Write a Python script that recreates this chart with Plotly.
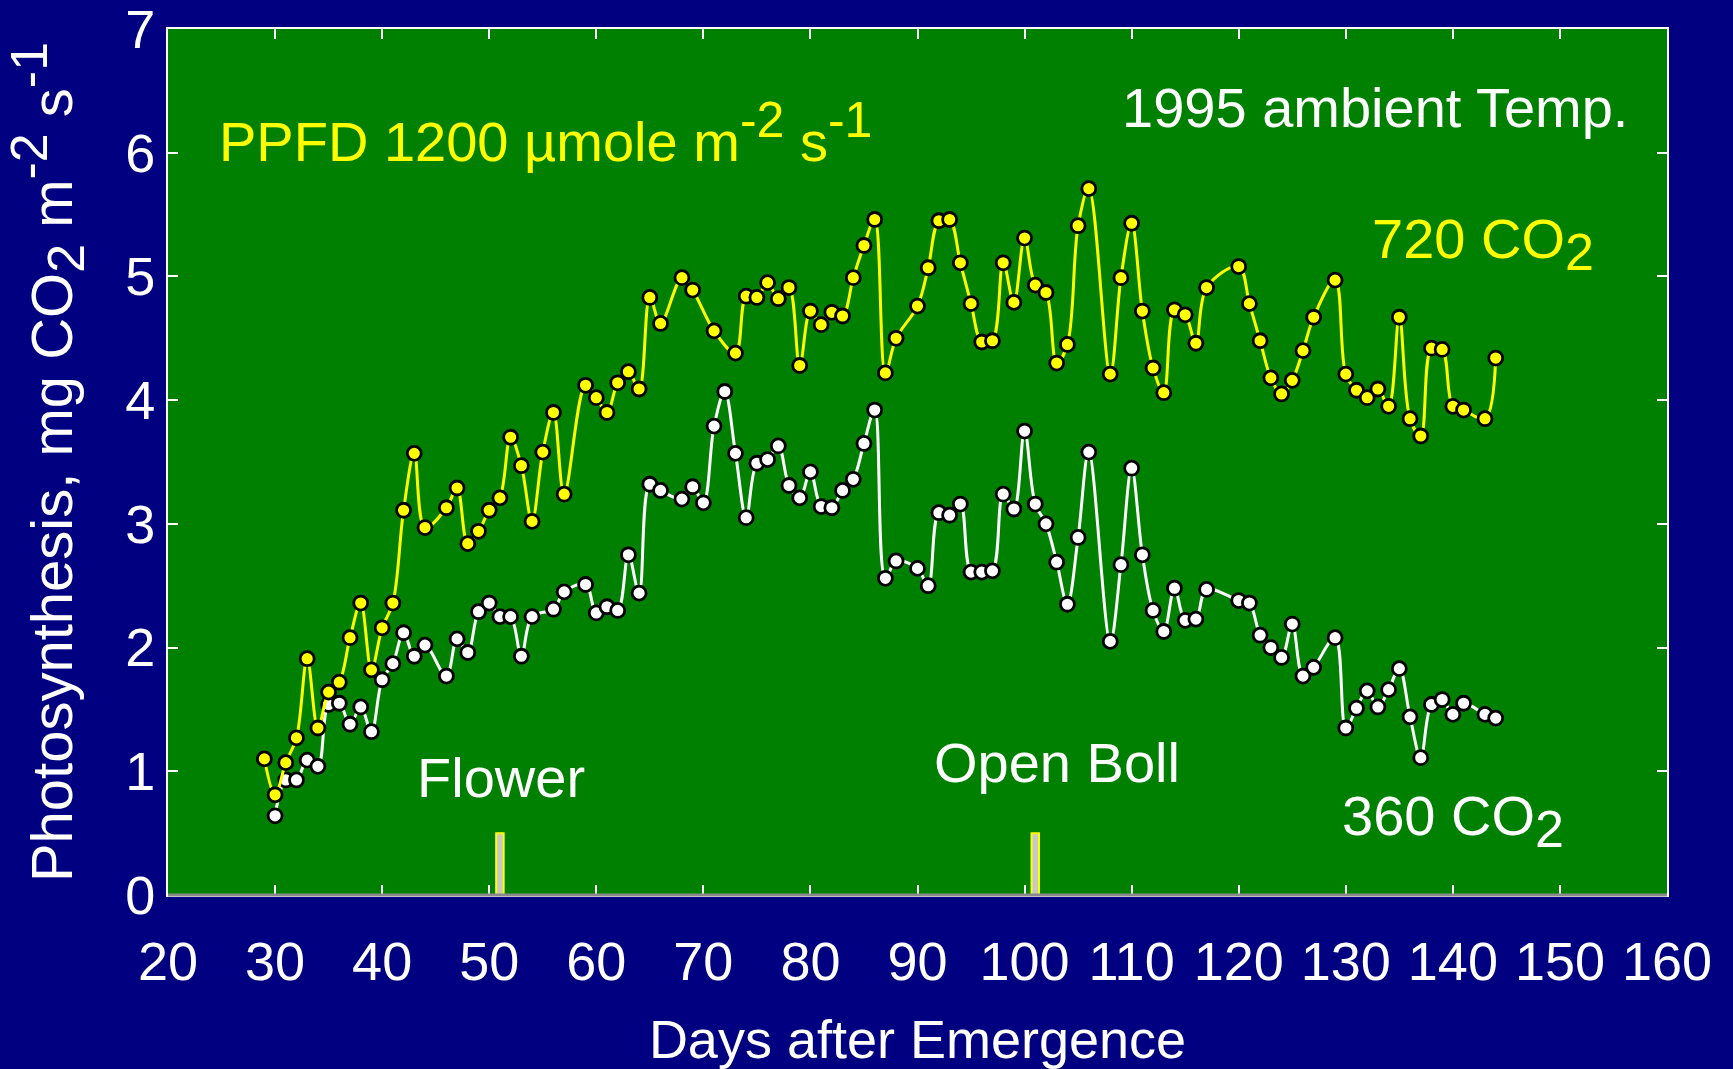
import plotly.graph_objects as go

# days after emergence and photosynthesis (mg CO2 m-2 s-1)
days_720 = [29, 30, 31, 32, 33, 34, 35, 36, 37, 38, 39, 40, 41, 42, 43, 44, 46, 47, 48, 49,
            50, 51, 52, 53, 54, 55, 56, 57, 59, 60, 61, 62, 63, 64, 65, 66, 68, 69, 71, 73,
            74, 75, 76, 77, 78, 79, 80, 81, 82, 83, 84, 85, 86, 87, 88, 90, 91, 92, 93, 94,
            95, 96, 97, 98, 99, 100, 101, 102, 103, 104, 105, 106, 108, 109, 110, 111, 112, 113, 114, 115,
            116, 117, 120, 121, 122, 123, 124, 125, 126, 127, 129, 130, 131, 132, 133, 134, 135, 136, 137, 138,
            139, 140, 141, 143, 144]
ps_720 = [1.10, 0.81, 1.07, 1.27, 1.91, 1.35, 1.64, 1.72, 2.08, 2.36, 1.82, 2.16, 2.36, 3.11, 3.57, 2.97, 3.13, 3.29, 2.84, 2.94,
          3.11, 3.21, 3.70, 3.47, 3.02, 3.58, 3.90, 3.24, 4.12, 4.02, 3.90, 4.14, 4.23, 4.09, 4.83, 4.62, 4.99, 4.89, 4.56, 4.38,
          4.84, 4.83, 4.95, 4.82, 4.91, 4.28, 4.72, 4.61, 4.71, 4.68, 4.99, 5.25, 5.46, 4.22, 4.50, 4.76, 5.07, 5.45, 5.46, 5.11,
          4.78, 4.47, 4.48, 5.11, 4.79, 5.31, 4.93, 4.87, 4.30, 4.45, 5.41, 5.71, 4.21, 4.99, 5.43, 4.72, 4.26, 4.06, 4.73, 4.69,
          4.46, 4.91, 5.08, 4.78, 4.48, 4.18, 4.05, 4.16, 4.40, 4.67, 4.97, 4.21, 4.08, 4.02, 4.09, 3.95, 4.67, 3.85, 3.71, 4.42,
          4.41, 3.95, 3.92, 3.85, 4.34]

days_360 = [30, 31, 32, 33, 34, 35, 36, 37, 38, 39, 40, 41, 42, 43, 44, 46, 47, 48, 49, 50,
            51, 52, 53, 54, 56, 57, 59, 60, 61, 62, 63, 64, 65, 66, 68, 69, 70, 71, 72, 73,
            74, 75, 76, 77, 78, 79, 80, 81, 82, 83, 84, 85, 86, 87, 88, 90, 91, 92, 93, 94,
            95, 96, 97, 98, 99, 100, 101, 102, 103, 104, 105, 106, 108, 109, 110, 111, 112, 113, 114, 115,
            116, 117, 120, 121, 122, 123, 124, 125, 126, 127, 129, 130, 131, 132, 133, 134, 135, 136, 137, 138,
            139, 140, 141, 143, 144]
ps_360 = [0.64, 0.93, 0.93, 1.09, 1.04, 1.54, 1.55, 1.38, 1.52, 1.32, 1.74, 1.87, 2.12, 1.93, 2.02, 1.77, 2.07, 1.96, 2.29, 2.36,
          2.25, 2.25, 1.93, 2.25, 2.31, 2.45, 2.51, 2.28, 2.33, 2.30, 2.75, 2.44, 3.32, 3.27, 3.20, 3.30, 3.17, 3.79, 4.07, 3.57,
          3.05, 3.49, 3.52, 3.63, 3.31, 3.21, 3.42, 3.14, 3.13, 3.27, 3.36, 3.65, 3.92, 2.56, 2.70, 2.64, 2.50, 3.09, 3.07, 3.16,
          2.61, 2.61, 2.62, 3.24, 3.12, 3.75, 3.16, 3.00, 2.69, 2.35, 2.89, 3.58, 2.05, 2.67, 3.45, 2.75, 2.30, 2.13, 2.48, 2.22,
          2.23, 2.47, 2.38, 2.36, 2.10, 2.00, 1.92, 2.19, 1.77, 1.84, 2.08, 1.35, 1.51, 1.65, 1.52, 1.66, 1.83, 1.44, 1.11, 1.54,
          1.58, 1.46, 1.55, 1.46, 1.43]

stage_names = ['Flower', 'Open Boll']
stage_days = [51, 101]
stage_height = 0.5

FONT = 'Liberation Sans, Arial, sans-serif'
NAVY = '#000080'
GREEN = '#008000'


def sup(t, px):
    return f'<sup><span style="font-size:{px}px">{t}</span></sup>'


def sub(t, px):
    return f'<sub><span style="font-size:{px}px">{t}</span></sub>'


fig = go.Figure()

fig.add_trace(go.Scatter(
    x=days_360, y=ps_360,
    mode='lines+markers',
    line=dict(color='white', width=3, shape='spline', smoothing=1),
    marker=dict(size=14, color='white', line=dict(color='black', width=2.8)),
    showlegend=False
))
fig.add_trace(go.Scatter(
    x=days_720, y=ps_720,
    mode='lines+markers',
    line=dict(color='#FFFF00', width=3, shape='spline', smoothing=1),
    marker=dict(size=14, color='#FFFF00', line=dict(color='black', width=2.8)),
    showlegend=False
))

# stage markers (small bars standing on the x axis)
for d in stage_days:
    fig.add_shape(type='rect', xref='x', yref='y',
                  x0=d - 0.35, x1=d + 0.35, y0=0, y1=stage_height,
                  fillcolor='#c8c8c8', line=dict(color='#FFFF00', width=2),
                  layer='above')

# bottom axis line is a grey one
fig.add_shape(type='line', xref='paper', yref='paper', x0=0, x1=1, y0=0, y1=0,
              line=dict(color='#8a8a8a', width=3), layer='above')

big = dict(family=FONT, size=56)

annotations = [
    dict(text='PPFD 1200 µmole m' + sup('-2', 50) + ' s' + sup('-1', 50), x=0.033, y=0.880,
         xanchor='left', yanchor='middle', font=dict(color='#FFFF00', **big)),
    dict(text='1995 ambient Temp.', x=0.975, y=0.909,
         xanchor='right', yanchor='middle', font=dict(color='white', **big)),
    dict(text='720 CO' + sub('2', 52), x=0.802, y=0.752,
         xanchor='left', yanchor='middle', font=dict(color='#FFFF00', **big)),
    dict(text='360 CO' + sub('2', 52), x=0.782, y=0.086,
         xanchor='left', yanchor='middle', font=dict(color='white', **big)),
    dict(text=stage_names[0], x=0.1648, y=0.136,
         xanchor='left', yanchor='middle', font=dict(color='white', **big)),
    dict(text=stage_names[1], x=0.5097, y=0.153,
         xanchor='left', yanchor='middle', font=dict(color='white', **big)),
]
for a in annotations:
    a.update(xref='paper', yref='paper', showarrow=False)

fig.update_layout(
    width=1733, height=1069,
    paper_bgcolor=NAVY, plot_bgcolor=GREEN,
    margin=dict(l=168, r=66, t=29, b=174),
    font=dict(family=FONT, color='white', size=56),
    annotations=annotations,
    xaxis=dict(
        range=[20, 160], tickmode='linear', tick0=20, dtick=10,
        ticks='inside', ticklen=10, tickwidth=2, tickcolor='white',
        showline=True, linecolor='white', linewidth=2, mirror='ticks',
        showgrid=False, zeroline=False, automargin=False,
        tickfont=dict(family=FONT, size=54, color='white'),
        ticklabelstandoff=18, ticklabeloverflow='allow',
        title=dict(text='Days after Emergence', standoff=30,
                   font=dict(family=FONT, size=54, color='white'))
    ),
    yaxis=dict(
        range=[0, 7], tickmode='linear', tick0=0, dtick=1,
        ticks='inside', ticklen=10, tickwidth=2, tickcolor='white',
        showline=True, linecolor='white', linewidth=2, mirror='ticks',
        showgrid=False, zeroline=False, automargin=False,
        tickfont=dict(family=FONT, size=54, color='white'),
        ticklabelstandoff=0, ticklabeloverflow='allow',
        title=dict(text='Photosynthesis, mg CO' + sub('2', 52) + ' m' + sup('-2', 52) + ' s' + sup('-1', 52),
                   standoff=34, font=dict(family=FONT, size=58, color='white'))
    ),
)

fig.write_html('out.html', config={'displayModeBar': False},
               post_script="document.body.style.margin='0';document.body.style.overflow='hidden';")
